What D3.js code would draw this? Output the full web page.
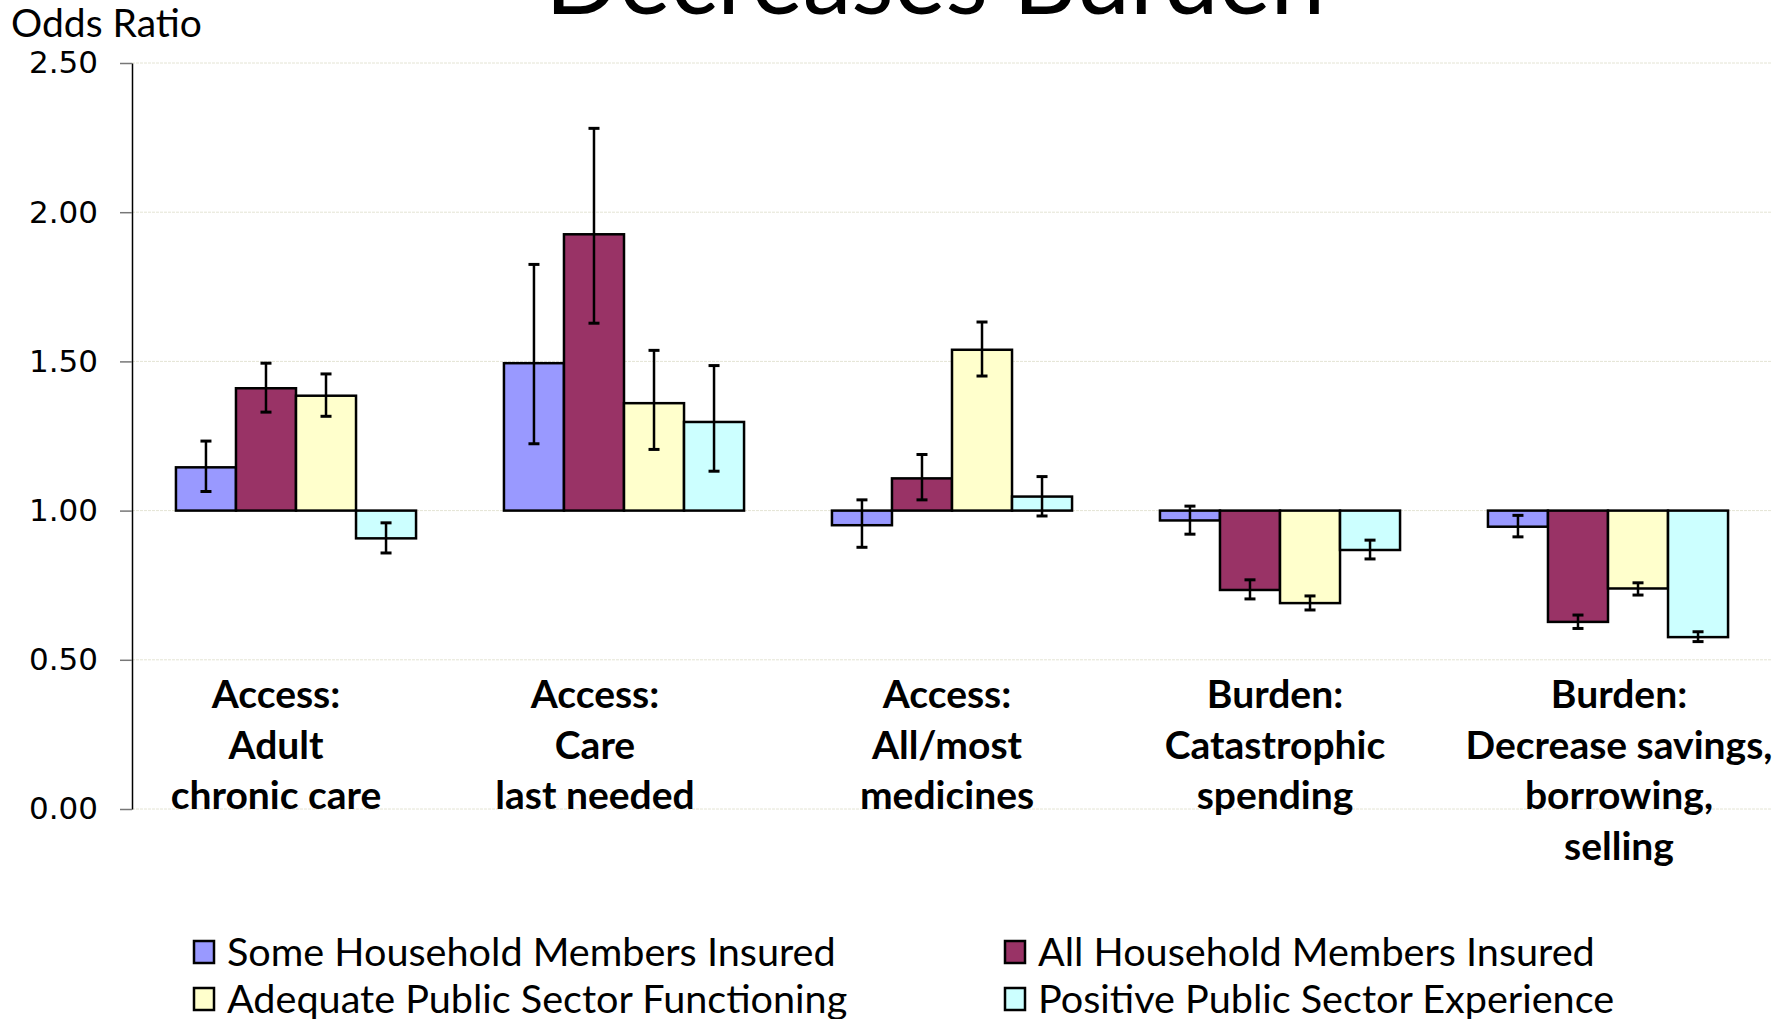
<!DOCTYPE html>
<html>
<head>
<meta charset="utf-8">
<script src="https://cdn.jsdelivr.net/npm/d3@7"></script>
<style>
  html, body { margin: 0; padding: 0; background: #fff; overflow: hidden; }
  svg { display: block; }
</style>
</head>
<body>
<div id="chart"><svg></svg></div>
<script>
// categories (lines of each x label)
const categories = [
    ["Access:", "Adult", "chronic care"],
    ["Access:", "Care", "last needed"],
    ["Access:", "All/most", "medicines"],
    ["Burden:", "Catastrophic", "spending"],
    ["Burden:", "Decrease savings,", "borrowing,", "selling"]
];
const seriesNames = [
    "Some Household Members Insured",
    "All Household Members Insured",
    "Adequate Public Sector Functioning",
    "Positive Public Sector Experience"
];
// odds ratios, one array per series
const someInsured  = [1.145, 1.494, 0.951, 0.967, 0.946];
const allInsured   = [1.410, 1.926, 1.108, 0.734, 0.627];
const adequatePub  = [1.385, 1.360, 1.539, 0.690, 0.739];
const positivePub  = [0.907, 1.297, 1.047, 0.868, 0.576];
// confidence interval bounds
const someLow  = [1.064, 1.224, 0.877, 0.921, 0.912];
const someHigh = [1.233, 1.825, 1.036, 1.015, 0.984];
const allLow   = [1.330, 1.628, 1.036, 0.704, 0.605];
const allHigh  = [1.494, 2.281, 1.188, 0.768, 0.650];
const adeqLow  = [1.316, 1.205, 1.451, 0.667, 0.717];
const adeqHigh = [1.458, 1.537, 1.632, 0.714, 0.758];
const posLow   = [0.858, 1.132, 0.982, 0.838, 0.561];
const posHigh  = [0.959, 1.486, 1.114, 0.901, 0.594];
const yTicks = [0, 0.5, 1, 1.5, 2, 2.5];

const colors = ["#9999ff", "#993366", "#ffffcc", "#ccffff"];
const labelShift = [-20, -29, -5, -5, 11];

let svg = d3.select("#chart svg").attr("width", 1792).attr("height", 1019);

let margin = {left: 132, right: 1772, top: 63, bottom: 809};

let values = [someInsured, allInsured, adequatePub, positivePub];
let lows = [someLow, allLow, adeqLow, posLow];
let highs = [someHigh, allHigh, adeqHigh, posHigh];

let x0 = d3.scaleBand().domain(d3.range(categories.length)).range([margin.left, margin.right]).paddingInner(0.268).paddingOuter(0.134);
let x1 = d3.scaleBand().domain(d3.range(seriesNames.length)).range([0, x0.bandwidth()]);
let y = d3.scaleLinear().domain([0, 2.5]).range([margin.bottom, margin.top]);

// title (mostly cut off at the top)
svg.append("text")
    .attr("x", 935).attr("y", 14)
    .attr("text-anchor", "middle")
    .attr("font-family", "Lato, sans-serif")
    .attr("font-size", 98)
    .text("Decreases Burden");

svg.append("text")
    .attr("x", 11).attr("y", 37)
    .attr("font-family", "Lato, sans-serif")
    .attr("font-size", 39)
    .text("Odds Ratio");

// gridlines
svg.append("g").selectAll("line")
    .data(yTicks)
    .enter().append("line")
    .attr("x1", margin.left).attr("x2", margin.right)
    .attr("y1", d => y(d)).attr("y2", d => y(d))
    .attr("stroke", "#e4e4d4")
    .attr("stroke-width", 1)
    .attr("stroke-dasharray", "3,1");

// y axis
let yAxis = svg.append("g")
    .attr("transform", "translate(" + margin.left + ",0)")
    .call(d3.axisLeft(y).tickValues(yTicks).tickFormat(d3.format(".2f")).tickSize(12).tickSizeOuter(0).tickPadding(22));
yAxis.select(".domain").attr("stroke", "#000").attr("stroke-width", 1.5);
yAxis.selectAll(".tick line").attr("stroke", "#777").attr("stroke-width", 1.5);
yAxis.selectAll(".tick text")
    .attr("font-family", "'DejaVu Sans', Verdana, sans-serif")
    .attr("font-size", 31)
    .attr("fill", "#000");

// bars
let groups = svg.append("g").selectAll("g")
    .data(categories)
    .enter().append("g")
    .attr("transform", (d, i) => "translate(" + x0(i) + ",0)");

groups.selectAll("rect")
    .data((d, i) => values.map((s, k) => ({k: k, v: s[i]})))
    .enter().append("rect")
    .attr("x", d => x1(d.k))
    .attr("width", x1.bandwidth())
    .attr("y", d => y(Math.max(1, d.v)))
    .attr("height", d => Math.abs(y(d.v) - y(1)))
    .attr("fill", d => colors[d.k])
    .attr("stroke", "#000")
    .attr("stroke-width", 2.5);

// error bars
let err = groups.selectAll("g.err")
    .data((d, i) => values.map((s, k) => ({k: k, lo: lows[k][i], hi: highs[k][i]})))
    .enter().append("g")
    .attr("class", "err")
    .attr("stroke", "#000")
    .attr("stroke-width", 2.5);

err.append("line")
    .attr("x1", d => x1(d.k) + x1.bandwidth() / 2)
    .attr("x2", d => x1(d.k) + x1.bandwidth() / 2)
    .attr("y1", d => y(d.lo)).attr("y2", d => y(d.hi));
["lo", "hi"].forEach(key => {
    err.append("line")
        .attr("x1", d => x1(d.k) + x1.bandwidth() / 2 - 5.5)
        .attr("x2", d => x1(d.k) + x1.bandwidth() / 2 + 5.5)
        .attr("y1", d => y(d[key])).attr("y2", d => y(d[key]))
        .attr("stroke-width", 3);
});

// category labels
let labels = svg.append("g").selectAll("text")
    .data(categories)
    .enter().append("text")
    .attr("text-anchor", "middle")
    .attr("font-family", "Lato, sans-serif")
    .attr("font-weight", "bold")
    .attr("font-size", 39)
    .attr("transform", (d, i) => "translate(" + (x0(i) + x0.bandwidth() / 2 + labelShift[i]) + ",708)");
labels.selectAll("tspan")
    .data(d => d)
    .enter().append("tspan")
    .attr("x", 0)
    .attr("y", (d, i) => i * 50.5)
    .text(d => d);

// legend
let legend = svg.append("g").selectAll("g")
    .data(seriesNames)
    .enter().append("g")
    .attr("transform", (d, i) => "translate(" + (i % 2 === 0 ? 194 : 1005) + "," + (i < 2 ? 952 : 999) + ")");

legend.append("rect")
    .attr("x", 0).attr("y", -11)
    .attr("width", 20).attr("height", 22)
    .attr("fill", (d, i) => colors[i])
    .attr("stroke", "#000")
    .attr("stroke-width", 2.5);

legend.append("text")
    .attr("x", 33).attr("y", 14)
    .attr("font-family", "Lato, sans-serif")
    .attr("font-size", 39.6)
    .text(d => d);
</script>
</body>
</html>
